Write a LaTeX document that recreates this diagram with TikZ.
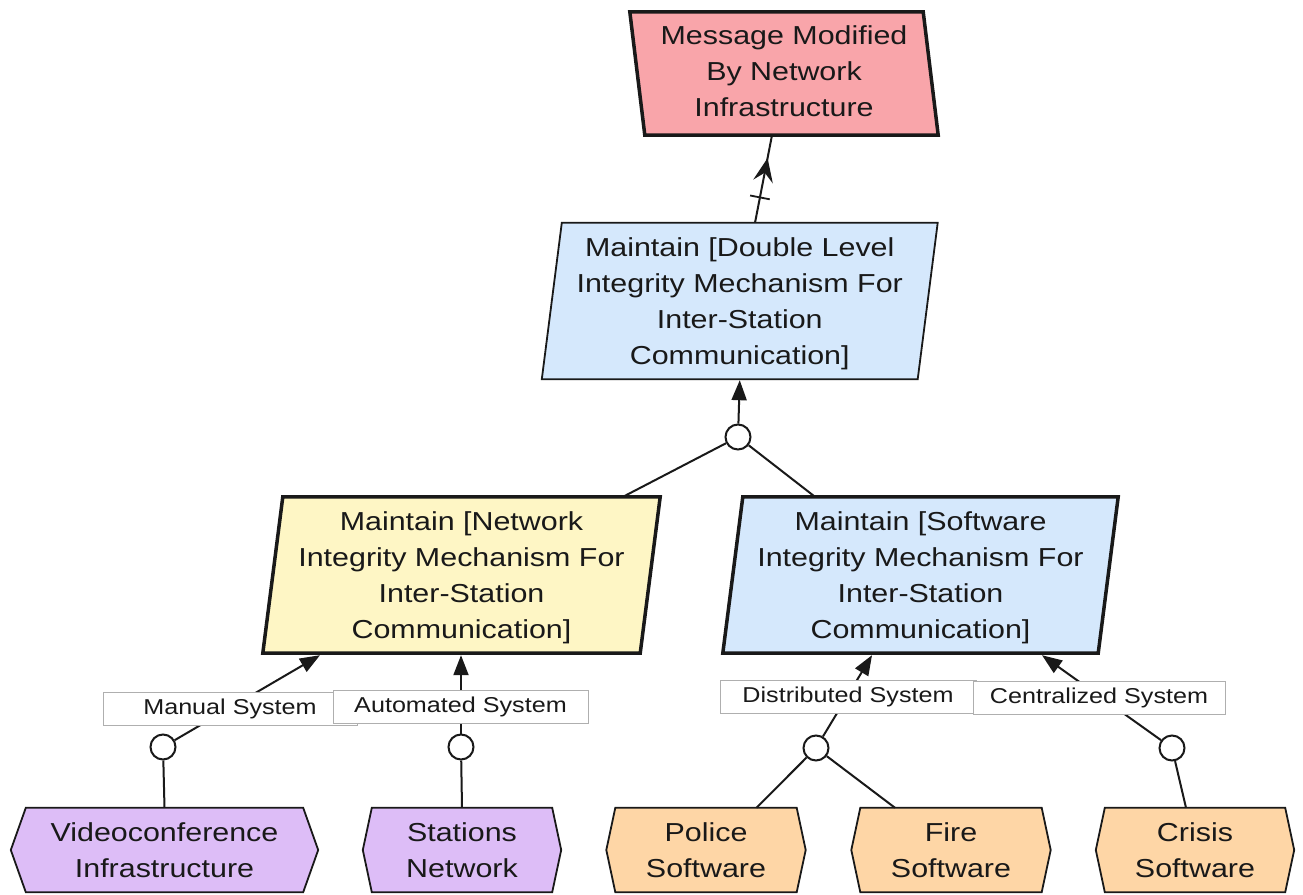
\documentclass[tikz,border=0pt]{standalone}
\usepackage{fontspec}
\setmainfont{Liberation Sans}[FakeStretch=1.17]
\usetikzlibrary{arrows.meta,backgrounds,decorations.markings}

\definecolor{ink}{RGB}{25,25,25}
\definecolor{obstacle}{RGB}{249,165,170}
\definecolor{goalblue}{RGB}{213,232,252}
\definecolor{goalyellow}{RGB}{254,246,197}
\definecolor{agentpurple}{RGB}{221,189,247}
\definecolor{agentorange}{RGB}{254,214,166}
\definecolor{lblgray}{RGB}{175,175,175}

% parallelogram behind a node: #1 node, #2 shift of the top edge, #3 style
\newcommand{\pgmshape}[3]{%
  \path[#3] ([xshift={-0.5*(#2)*1pt}]#1.south west) -- ([xshift={-0.5*(#2)*1pt}]#1.south east)
    -- ([xshift={0.5*(#2)*1pt}]#1.north east) -- ([xshift={0.5*(#2)*1pt}]#1.north west) -- cycle;}
% hexagon behind a node: #1 node, #2 depth of the side points, #3 style
\newcommand{\hexshape}[3]{%
  \path[#3] (#1.north west) -- (#1.north east) -- ([xshift=#2pt]#1.east)
    -- (#1.south east) -- (#1.south west) -- ([xshift=-#2pt]#1.west) -- cycle;}
% strut that lowers a goal text a little
\newcommand{\topstrut}{\rule{0pt}{24pt}}

\tikzset{
  txt/.style={inner sep=0pt, align=center, text=ink, font=\fontsize{26}{36}\selectfont},
  goal/.style={txt, minimum width=#1, minimum height=156pt},
  agent/.style={txt, minimum width=#1, minimum height=84pt},
  thickborder/.style={draw=ink, line width=3.5pt, line join=miter},
  thinborder/.style={draw=ink, line width=1.8pt, line join=miter},
  conn/.style={draw=ink, line width=2pt},
  arr/.style={conn, -{Triangle[length=20pt,width=15pt]}},
  refine/.style={circle, draw=ink, line width=2pt, fill=white, minimum size=25pt, inner sep=0pt},
  lbl/.style={draw=lblgray, line width=1pt, fill=white, inner sep=0pt, minimum width=#1,
    minimum height=33pt, text=ink, font=\fontsize{21.5}{24}\selectfont},
}

\begin{document}
\begin{tikzpicture}[x=1pt, y=-1pt]
\useasboundingbox (0,0) rectangle (1303,894);

% goal and obstacle texts
\node[txt, minimum width=293pt, minimum height=123pt] (obs) at (784,73.5)
  {Message Modified\\By Network\\Infrastructure\rule[-4pt]{0pt}{1pt}};
\node[goal=375.5pt] (dl) at (739.75,301)
  {\topstrut Maintain [Double Level\\Integrity Mechanism For\\Inter-Station\\Communication]};
\node[goal=377pt] (net) at (461.5,575)
  {\topstrut Maintain [Network\\Integrity Mechanism For\\Inter-Station\\Communication]};
\node[goal=375pt] (soft) at (920.5,575)
  {\topstrut Maintain [Software\\Integrity Mechanism For\\Inter-Station\\Communication]};

% agents
\node[agent=277pt] (video) at (164.5,850) {Videoconference\\Infrastructure};
\node[agent=180pt] (stations) at (462,850) {Stations\\Network};
\node[agent=181pt] (police) at (706,850) {Police\\Software};
\node[agent=181pt] (fire) at (951,850) {Fire\\Software};
\node[agent=180pt] (crisis) at (1195,850) {Crisis\\Software};

\begin{pgfonlayer}{background}
  \pgmshape{obs}{-15}{fill=obstacle, thickborder}
  \pgmshape{dl}{20}{fill=goalblue, thinborder}
  \pgmshape{net}{20}{fill=goalyellow, thickborder}
  \pgmshape{soft}{20}{fill=goalblue, thickborder}
  \hexshape{video}{15}{fill=agentpurple, thinborder}
  \hexshape{stations}{9}{fill=agentpurple, thinborder}
  \hexshape{police}{9}{fill=agentorange, thinborder}
  \hexshape{fire}{9}{fill=agentorange, thinborder}
  \hexshape{crisis}{9}{fill=agentorange, thinborder}
\end{pgfonlayer}

% refinement circles
\node[refine] (r0) at (738,437) {};
\node[refine] (rman) at (163,747) {};
\node[refine] (raut) at (461,747) {};
\node[refine] (rdis) at (816,748) {};
\node[refine] (rcen) at (1172,748) {};

% obstruction link: barbed head part way along, crossbar near the goal
\draw[conn, postaction={decorate}, decoration={markings,
    mark=at position 0.74 with {\fill[ink] (0pt,0pt) -- (-24pt,10pt) -- (-15pt,0pt) -- (-24pt,-10pt) -- cycle;},
    mark=at position 0.29 with {\draw[line width=1.8pt] (0pt,-10pt) -- (0pt,10pt);}}]
  ([xshift=15.25pt]dl.north) -- ([xshift=-12pt]obs.south);

% and-refinement of the double level goal
\draw[arr] (r0) -- ([yshift=-1pt]dl.south);
\draw[conn] (r0) -- ([xshift=161.5pt]net.north);
\draw[conn] (r0) -- ([xshift=-105.5pt]soft.north);

% alternatives for the network goal
\draw[arr] (rman) -- ([xshift=-141.5pt, yshift=-2pt]net.south);
\draw[arr] (raut) -- ([xshift=-0.5pt, yshift=-2pt]net.south);
\draw[conn] (rman) -- (video.north);
\draw[conn] (raut) -- (stations.north);

% alternatives for the software goal
\draw[arr] (rdis) -- ([xshift=-48.5pt, yshift=-2pt]soft.south);
\draw[arr] (rcen) -- ([xshift=121.5pt, yshift=-2pt]soft.south);
\draw[conn] (rdis) -- ([xshift=50.5pt]police.north);
\draw[conn] (rdis) -- ([xshift=-56pt]fire.north);
\draw[conn] (rcen) -- ([xshift=-9pt]crisis.north);

% alternative labels
\node[lbl=254pt] (lman) at (230,708.5) {Manual System};
\node[lbl=255pt] (laut) at (460.5,706.5) {Automated System};
\node[lbl=256pt] (ldis) at (848,697) {Distributed System};
\node[lbl=252pt] (lcen) at (1099,698) {Centralized System};
\end{tikzpicture}
\end{document}
